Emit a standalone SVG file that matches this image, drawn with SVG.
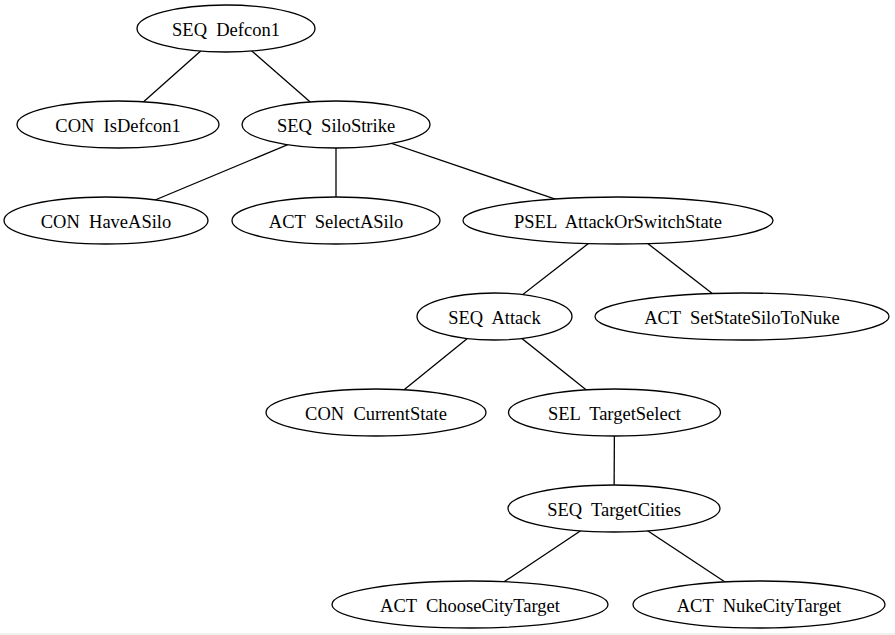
<svg xmlns="http://www.w3.org/2000/svg" width="895" height="635" viewBox="0 0 895 635">
<style>
.n ellipse{fill:#fff;stroke:#000;stroke-width:1.3}
.n text{font-family:"Liberation Serif","Times New Roman",serif;font-size:18.5px;fill:#000;text-anchor:middle;white-space:pre}
#edges line{stroke:#000;stroke-width:1.3}
</style>
<rect x="0" y="0" width="895" height="635" fill="#fff"/>
<rect x="0" y="633" width="895" height="2" fill="#f0f0f0"/>
<g id="edges">
<line x1="226" y1="28.5" x2="118" y2="124.5"/>
<line x1="226" y1="28.5" x2="336" y2="124.5"/>
<line x1="336" y1="124.5" x2="106" y2="220.5"/>
<line x1="336" y1="124.5" x2="336" y2="220.5"/>
<line x1="336" y1="124.5" x2="618" y2="220.5"/>
<line x1="618" y1="220.5" x2="494.5" y2="316.5"/>
<line x1="618" y1="220.5" x2="742" y2="316.5"/>
<line x1="494.5" y1="316.5" x2="376" y2="412.5"/>
<line x1="494.5" y1="316.5" x2="614.5" y2="412.5"/>
<line x1="614.5" y1="412.5" x2="614" y2="508.5"/>
<line x1="614" y1="508.5" x2="470" y2="604.5"/>
<line x1="614" y1="508.5" x2="759" y2="604.5"/>
</g>
<g id="n1" class="n"><ellipse cx="226" cy="28.5" rx="89" ry="23.5"/><text x="226" y="36">SEQ  Defcon1</text></g>
<g id="n2" class="n"><ellipse cx="118" cy="124.5" rx="101" ry="23.5"/><text x="118" y="132">CON  IsDefcon1</text></g>
<g id="n3" class="n"><ellipse cx="336" cy="124.5" rx="94" ry="23.5"/><text x="336" y="132">SEQ  SiloStrike</text></g>
<g id="n4" class="n"><ellipse cx="106" cy="220.5" rx="102" ry="23.5"/><text x="106" y="228">CON  HaveASilo</text></g>
<g id="n5" class="n"><ellipse cx="336" cy="220.5" rx="104" ry="23.5"/><text x="336" y="228">ACT  SelectASilo</text></g>
<g id="n6" class="n"><ellipse cx="618" cy="220.5" rx="155" ry="23.5"/><text x="618" y="228">PSEL  AttackOrSwitchState</text></g>
<g id="n7" class="n"><ellipse cx="494.5" cy="316.5" rx="77.5" ry="23.5"/><text x="494.5" y="324">SEQ  Attack</text></g>
<g id="n8" class="n"><ellipse cx="742" cy="316.5" rx="147" ry="23.5"/><text x="742" y="324">ACT  SetStateSiloToNuke</text></g>
<g id="n9" class="n"><ellipse cx="376" cy="412.5" rx="110" ry="23.5"/><text x="376" y="420">CON  CurrentState</text></g>
<g id="n10" class="n"><ellipse cx="614.5" cy="412.5" rx="106" ry="23.5"/><text x="614.5" y="420">SEL  TargetSelect</text></g>
<g id="n11" class="n"><ellipse cx="614" cy="508.5" rx="106" ry="23.5"/><text x="614" y="516">SEQ  TargetCities</text></g>
<g id="n12" class="n"><ellipse cx="470" cy="604.5" rx="138" ry="23.5"/><text x="470" y="612">ACT  ChooseCityTarget</text></g>
<g id="n13" class="n"><ellipse cx="759" cy="604.5" rx="126" ry="23.5"/><text x="759" y="612">ACT  NukeCityTarget</text></g>
</svg>
